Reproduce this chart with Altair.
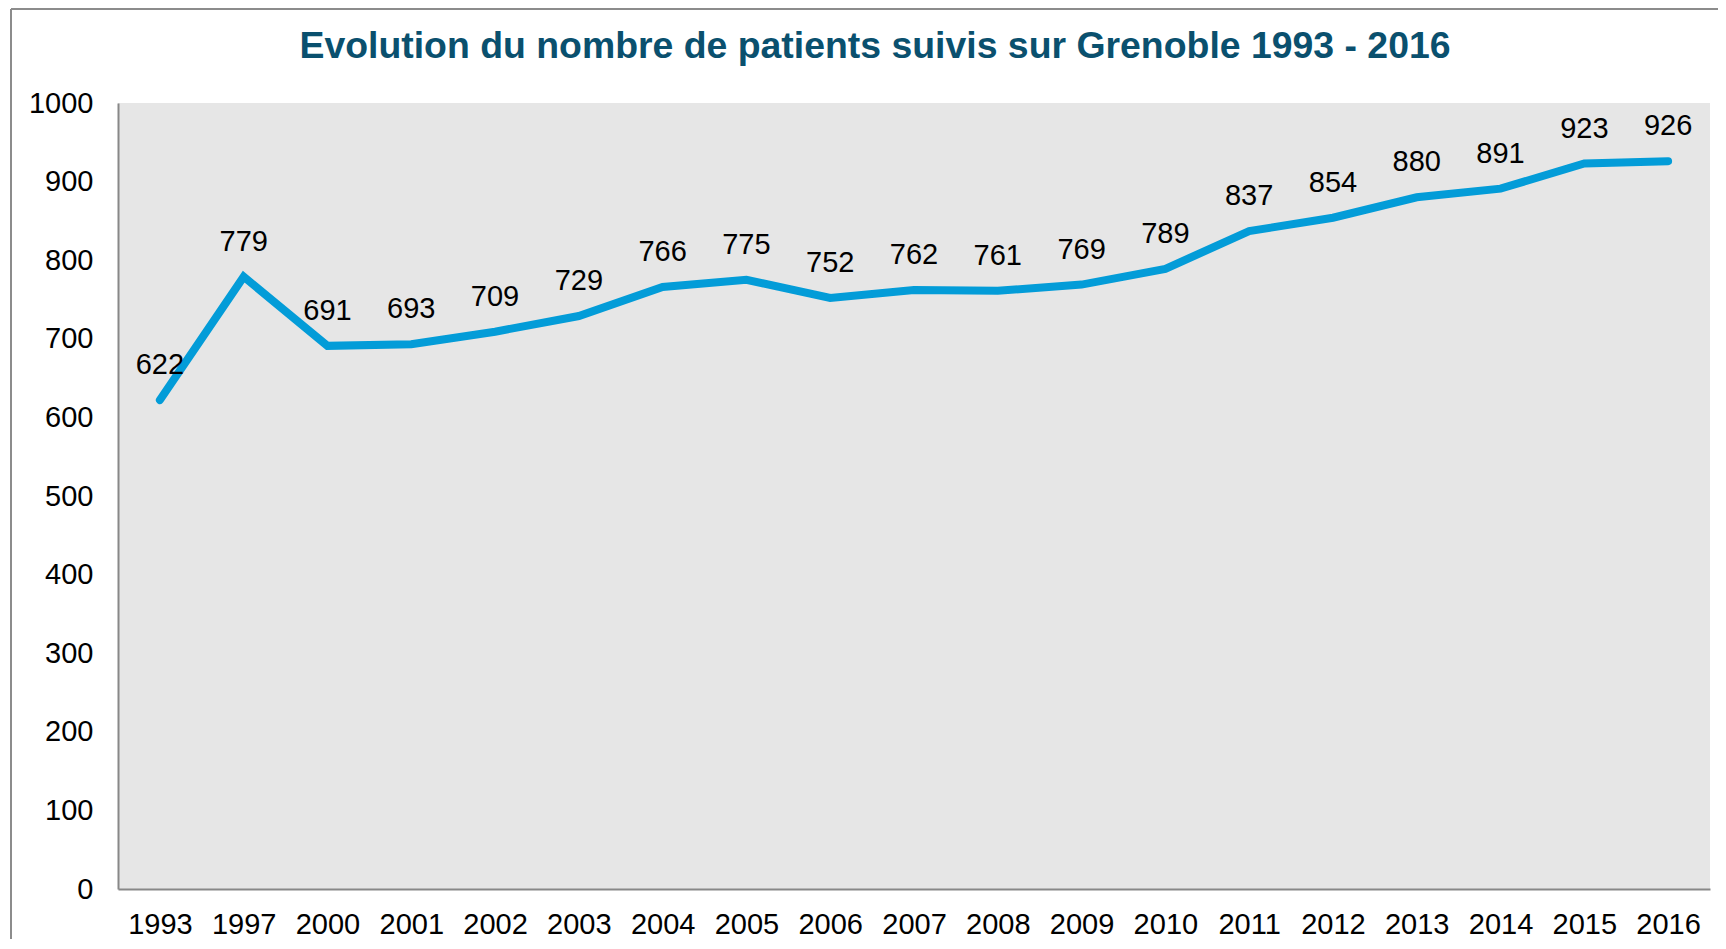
import altair as alt
import pandas as pd

title_text = "Evolution du nombre de patients suivis sur Grenoble 1993 - 2016"
years = ["1993", "1997", "2000", "2001", "2002", "2003", "2004", "2005", "2006", "2007",
         "2008", "2009", "2010", "2011", "2012", "2013", "2014", "2015", "2016"]
patients = [622, 779, 691, 693, 709, 729, 766, 775, 752, 762,
            761, 769, 789, 837, 854, 880, 891, 923, 926]

df = pd.DataFrame({"annee": years, "patients": patients})

FONT = "Liberation Sans"

x_enc = alt.X("annee:N", sort=years, title=None,
              scale=alt.Scale(paddingInner=0, paddingOuter=0.5),
              axis=alt.Axis(labelAngle=0, labelFontSize=29, labelColor="#000000",
                            labelFont=FONT, ticks=False, labelPadding=21,
                            domainColor="#888888", domainWidth=2))
y_enc = alt.Y("patients:Q", title=None,
              scale=alt.Scale(domain=[0, 1000], nice=False),
              axis=alt.Axis(values=list(range(0, 1001, 100)), labelFontSize=29,
                            format="d",
                            labelColor="#000000", labelFont=FONT, ticks=False,
                            labelPadding=25, grid=False,
                            domainColor="#888888", domainWidth=2))

base = alt.Chart(df)

line = base.mark_line(color="#039cd8", strokeWidth=8, strokeCap="round",
                      strokeJoin="miter").encode(x=x_enc, y=y_enc)

labels = base.mark_text(fontSize=29, font=FONT, color="#000000", dy=-35,
                        baseline="middle").encode(
    x=alt.X("annee:N", sort=years), y=alt.Y("patients:Q"), text=alt.Text("patients:Q"))

title = alt.Chart(pd.DataFrame({"t": [title_text]})).mark_text(
    font=FONT, fontSize=37.4, fontWeight="bold", color="#0a506e",
    align="center", baseline="middle").encode(
    x=alt.value(757), y=alt.value(-56), text="t:N")

frame_left = alt.Chart(pd.DataFrame({"v": [0]})).mark_rule(
    color="#8c8c8c", strokeWidth=2).encode(
    x=alt.value(-107), y=alt.value(-94), y2=alt.value(900))
frame_top = alt.Chart(pd.DataFrame({"v": [0]})).mark_rule(
    color="#8c8c8c", strokeWidth=2).encode(
    x=alt.value(-107), x2=alt.value(1700), y=alt.value(-94))

chart = alt.layer(line, labels, title, frame_left, frame_top).properties(
    width=1592,
    height=786,
    autosize=alt.AutoSizeParams(type="none"),
    padding={"left": 110, "top": 95, "right": 8, "bottom": 50},
    background="#ffffff",
).configure_view(fill="#e6e6e6", stroke=None)

chart.save("out.html", embed_options={"renderer": "svg", "actions": False})
